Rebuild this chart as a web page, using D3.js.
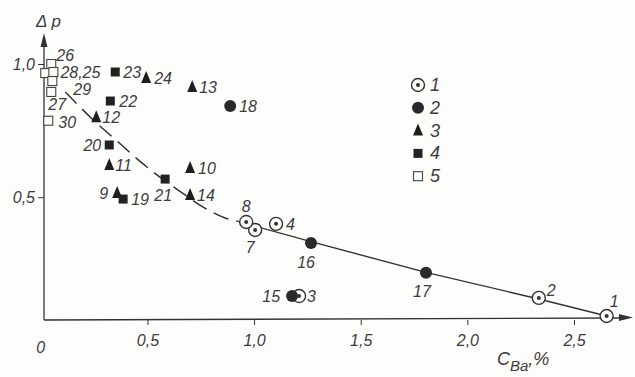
<!DOCTYPE html>
<html><head><meta charset="utf-8">
<script src="https://cdn.jsdelivr.net/npm/d3@7"></script>
<style>
body{margin:0;background:#fdfdfb;}
svg{display:block;}
text{font-family:"Liberation Sans",Arial,sans-serif;font-style:italic;fill:#3c3c3c;}
</style></head><body>
<script>
// ---- data ----
const groups = ["1","2","3","4","5"];
const pointIds = ["1","2","3","4","7","8","15","16","17","18","9","10","11","12","13","14","24","19","20","21","22","23","25","26","27","28","29","30"];
const pointGroup = ["1","1","1","1","1","1","2","2","2","2","3","3","3","3","3","3","3","4","4","4","4","4","5","5","5","5","5","5"];
const pointC = [2.653,2.335,1.211,1.103,1.005,0.963,1.178,1.267,1.806,0.888,0.358,0.700,0.321,0.260,0.710,0.700,0.494,0.386,0.321,0.583,0.326,0.349,0.021,0.049,0.049,0.059,0.054,0.035];
const pointDp = [0.054,0.122,0.129,0.400,0.377,0.407,0.129,0.328,0.216,0.842,0.516,0.610,0.621,0.800,0.914,0.508,0.947,0.493,0.696,0.568,0.861,0.970,0.966,1.000,0.895,0.970,0.936,0.787];
const dashC = [0.115,0.246,0.363,0.457,0.546,0.663,0.761,0.864,0.916];
const dashDp = [0.895,0.790,0.707,0.640,0.583,0.516,0.463,0.422,0.411];
const solidC = [0.916,1.267,1.806,2.335,2.653];
const solidDp = [0.411,0.333,0.218,0.118,0.054];
const xTicks = [0,0.5,1.0,1.5,2.0,2.5];
const xTickLabels = ["0","0,5","1,0","1,5","2,0","2,5"];
const yTicks = [0.5,1.0];
const yTickLabels = ["0,5","1,0"];

// ---- layout ----
const W=635,H=377;
const svg=d3.select("body").append("svg").attr("width",W).attr("height",H);
const x=d3.scaleLinear().domain([0.015,2.5]).range([44,574]);
const y=d3.scaleLinear().domain([0.039,1.0]).range([320,64]);
const ink="#333";
const FS=16;

// axes
const xAxis=d3.axisBottom(x).tickValues(xTicks.slice(1)).tickFormat((d,i)=>xTickLabels[i+1]).tickSize(5).tickPadding(10).tickSizeOuter(0);
const gx=svg.append("g").attr("transform","translate(0,320)").call(xAxis);
gx.select(".domain").remove();
gx.selectAll("line").attr("stroke",ink);
gx.selectAll("text").attr("font-size",FS).style("font-family","Liberation Sans").style("font-style","italic").attr("fill","#444");
svg.append("text").attr("x",x(0)).attr("y",353).attr("text-anchor","middle").attr("font-size",FS).text(xTickLabels[0]);

const yAxis=d3.axisLeft(y).tickValues(yTicks).tickFormat((d,i)=>yTickLabels[i]).tickSize(6).tickPadding(3).tickSizeOuter(0);
const gy=svg.append("g").attr("transform","translate(44,0)").call(yAxis);
gy.select(".domain").remove();
gy.selectAll("line").attr("stroke",ink);
gy.selectAll("text").attr("font-size",FS).style("font-family","Liberation Sans").style("font-style","italic").attr("fill","#444");

// axis lines with arrows
svg.append("line").attr("x1",44).attr("y1",320).attr("x2",620).attr("y2",318).attr("stroke",ink).attr("stroke-width",1.3);
svg.append("path").attr("d","M619,314 L633,317.5 L619,321 Z").attr("fill",ink);
svg.append("line").attr("x1",44).attr("y1",320).attr("x2",44).attr("y2",45).attr("stroke",ink).attr("stroke-width",1.3);
svg.append("path").attr("d","M40.5,47 L44,33 L47.5,47 Z").attr("fill",ink);

svg.append("text").attr("x",36).attr("y",27).attr("font-size",17).text("Δ p");
const xl=svg.append("text").attr("x",497).attr("y",365).attr("font-size",18);
xl.append("tspan").text("C");
xl.append("tspan").attr("dy",6).attr("font-size",15).text("Ba");
xl.append("tspan").attr("dy",-6).text(",%");

// lines
const lineGen=d3.line().x(d=>x(d[0])).y(d=>y(d[1])).curve(d3.curveMonotoneX);
svg.append("path").datum(dashC.map((c,i)=>[c,dashDp[i]])).attr("d",lineGen)
  .attr("fill","none").attr("stroke",ink).attr("stroke-width",1.5).attr("stroke-dasharray","16,8");
svg.append("path").datum(solidC.map((c,i)=>[c,solidDp[i]])).attr("d",d3.line().x(d=>x(d[0])).y(d=>y(d[1])))
  .attr("fill","none").attr("stroke",ink).attr("stroke-width",1.4);

// markers
function marker(g,grp){
  if(grp==="1"){g.append("circle").attr("r",6.5).attr("fill","#fdfdfb").attr("stroke",ink).attr("stroke-width",1.4);
    g.append("circle").attr("r",2).attr("fill",ink);}
  else if(grp==="2"){g.append("circle").attr("r",6).attr("fill","#2a2a2a");}
  else if(grp==="3"){g.append("path").attr("d","M0,-7 L5,5 L-5,5 Z").attr("fill","#1e1e1e");}
  else if(grp==="4"){g.append("rect").attr("x",-4.5).attr("y",-4.5).attr("width",9).attr("height",9).attr("fill","#222");}
  else {g.append("rect").attr("x",-4.5).attr("y",-4.5).attr("width",9).attr("height",9).attr("fill","#fdfdfb").attr("stroke","#444").attr("stroke-width",1.1);}
}
const pts=pointIds.map((id,i)=>({id,g:pointGroup[i],c:pointC[i],dp:pointDp[i]}));
pts.forEach(p=>{const g=svg.append("g").attr("transform",`translate(${x(p.c)},${y(p.dp)})`);marker(g,p.g);});

// point labels (offsets are layout)
const lab={ "1":[3,-9,"start"],"2":[8,-2,"start"],"3":[8,6,"start"],"4":[10,6,"start"],"7":[-5,23,"middle"],"8":[0,-10,"middle"],
 "15":[-12,6,"end"],"16":[-5,25,"middle"],"17":[-4,24,"middle"],"18":[9,6,"start"],"9":[-9,6,"end"],"10":[8,6,"start"],
 "11":[6,6,"start"],"12":[6,6,"start"],"13":[7,6,"start"],"14":[7,6,"start"],"24":[8,6,"start"],"19":[8,6,"start"],
 "20":[-8,6,"end"],"21":[-2,22,"middle"],"22":[9,6,"start"],"23":[8,6,"start"],"26":[5,-3,"start"],"28":[7,6,"start"],
 "27":[-3,18,"start"],"29":[21,14,"start"],"30":[10,7,"start"]};
const labText={"28":"28,25"};
pts.forEach(p=>{const o=lab[p.id]; if(!o) return;
  svg.append("text").attr("x",x(p.c)+o[0]).attr("y",y(p.dp)+o[1]).attr("text-anchor",o[2]).attr("font-size",FS).text(labText[p.id]||p.id);});

// legend
groups.forEach((gname,i)=>{
  const yy=85+i*22.8;
  const g=svg.append("g").attr("transform",`translate(418,${yy})`);marker(g,gname);
  svg.append("text").attr("x",430).attr("y",yy+6).attr("font-size",18).attr("fill","#5a5a5a").text(gname);
});
</script></body></html>
